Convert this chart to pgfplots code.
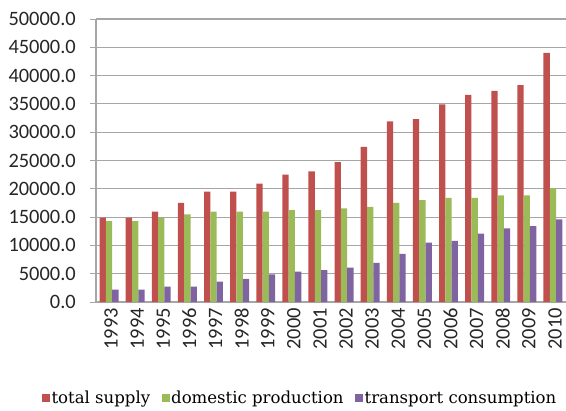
\documentclass[border=0pt]{standalone}
\usepackage{fontspec}
\setmainfont{Carlito}
\newfontfamily\legendfont{DejaVu Serif}
\usepackage{pgfplots}
\pgfplotsset{compat=1.18}

\definecolor{supplyred}{HTML}{C0504D}
\definecolor{prodgreen}{HTML}{9BBB59}
\definecolor{transpurple}{HTML}{8064A2}
\definecolor{axisgray}{HTML}{A6A6A6}

\begin{document}
\begin{tikzpicture}
\useasboundingbox (-96bp,-109bp) rectangle (470bp,302bp);
\begin{axis}[
  scale only axis,
  width=470bp, height=283bp,
  ybar=0pt, bar width=6.3bp,
  xmin=-0.5, xmax=17.5,
  ymin=0, ymax=50000,
  xtick={0,...,17},
  xticklabels={1993,1994,1995,1996,1997,1998,1999,2000,2001,2002,2003,2004,2005,2006,2007,2008,2009,2010},
  minor xtick={-0.5,0.5,...,17.5},
  ytick={0,5000,...,50000},
  axis x line*=bottom, axis y line*=left,
  axis line style={axisgray, line width=1.2bp, -},
  tick align=outside,
  major tick length=6bp, minor tick length=5bp,
  xtick style={draw=none},
  minor x tick style={axisgray, line width=1bp},
  ytick style={axisgray, line width=1bp},
  ymajorgrids, grid style={axisgray, line width=1.1bp},
  scaled y ticks=false,
  yticklabel={\pgfmathprintnumber[fixed, fixed zerofill, precision=1, 1000 sep={}]{\tick}},
  /pgf/number format/assume math mode=true,
  tick label style={font=\fontsize{20.5}{21}\selectfont, text=black!85},
  yticklabel style={inner sep=0pt, xshift=-14bp},
  xticklabel style={rotate=90, anchor=east, inner sep=0pt, yshift=-2bp},
  legend columns=3,
  legend style={at={(0.434,-0.339)}, anchor=center, draw=none, fill=none,
    font=\legendfont\fontsize{16.6}{17}\selectfont,
    /tikz/every even column/.append style={column sep=10bp},
    nodes={inner xsep=1.5bp, inner ysep=0pt}},
  legend image code/.code={\fill[#1] (0bp,-4bp) rectangle (8bp,4bp);},
]
% total supply
\addplot[fill=supplyred, draw=none] coordinates {
  (0,14900) (1,14900) (2,15950) (3,17500) (4,19500) (5,19500) (6,20900)
  (7,22500) (8,23100) (9,24700) (10,27400) (11,31900) (12,32300)
  (13,34900) (14,36600) (15,37300) (16,38300) (17,44000)};
% domestic production
\addplot[fill=prodgreen, draw=none] coordinates {
  (0,14300) (1,14300) (2,14900) (3,15500) (4,15950) (5,15950) (6,15950)
  (7,16250) (8,16250) (9,16550) (10,16800) (11,17500) (12,18000)
  (13,18400) (14,18400) (15,18850) (16,18850) (17,20100)};
% transport consumption
\addplot[fill=transpurple, draw=none] coordinates {
  (0,2200) (1,2200) (2,2700) (3,2700) (4,3600) (5,4100) (6,4900)
  (7,5350) (8,5650) (9,6060) (10,6900) (11,8500) (12,10500)
  (13,10800) (14,12100) (15,13000) (16,13400) (17,14600)};
\legend{total supply, domestic production, transport consumption}
\end{axis}
\end{tikzpicture}
\end{document}
